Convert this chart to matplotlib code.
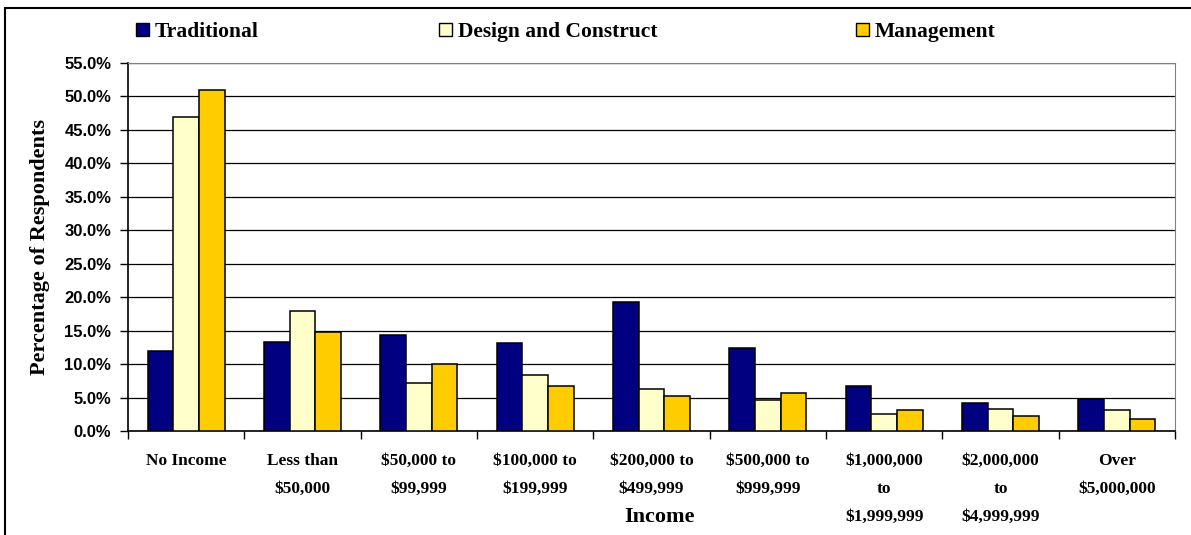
import numpy as np
import matplotlib
matplotlib.use("Agg")
import matplotlib.pyplot as plt
from matplotlib.patches import Rectangle

# データ
categories = ["No Income", "Less than\n\\$50,000", "\\$50,000 to\n\\$99,999",
              "\\$100,000 to\n\\$199,999", "\\$200,000 to\n\\$499,999",
              "\\$500,000 to\n\\$999,999", "\\$1,000,000\nto\n\\$1,999,999",
              "\\$2,000,000\nto\n\\$4,999,999", "Over\n\\$5,000,000"]
traditional = [11.9, 13.3, 14.4, 13.1, 19.3, 12.4, 6.8, 4.2, 4.8]
design_construct = [46.9, 17.9, 7.1, 8.4, 6.3, 4.6, 2.6, 3.3, 3.1]
management = [50.9, 14.8, 10.0, 6.7, 5.2, 5.7, 3.1, 2.2, 1.8]
series_names = ["Traditional", "Design and Construct", "Management"]
colors = ["#000080", "#FFFFCC", "#FFCC00"]

serif = ["Liberation Serif", "DejaVu Serif"]
narrow = ["Liberation Sans Narrow", "Liberation Sans", "DejaVu Sans"]

fig = plt.figure(figsize=(11.91, 5.35), dpi=100)
ax = fig.add_axes([0.1075, 0.1944, 0.8791, 0.6878])

x = np.arange(len(categories))
w = 0.22
bars = []
for i, (vals, name, c) in enumerate(zip([traditional, design_construct, management], series_names, colors)):
    b = ax.bar(x + (i - 1) * w, vals, w, color=c, edgecolor="black", linewidth=1.1,
               label=name, zorder=3)
    bars.append(b)

ax.set_xlim(-0.5, len(categories) - 0.5)
ax.set_ylim(0, 55)
ax.set_yticks(np.arange(0, 55.1, 5))
ax.set_yticklabels([f"{v:.1f}%" for v in np.arange(0, 55.1, 5)],
                   fontsize=12, fontweight="bold", family=narrow)
ax.yaxis.grid(True, color="black", linewidth=0.9, zorder=0)
ax.set_axisbelow(True)

# x軸の目盛はカテゴリの境界に
ax.set_xticks(np.arange(len(categories) + 1) - 0.5)
ax.set_xticklabels([])
ax.set_xticks(x, minor=True)
ax.set_xticklabels(categories, minor=True, fontsize=12.5, fontweight="bold",
                   family=serif, linespacing=2.0, va="top")
ax.tick_params(axis="x", which="minor", length=0, pad=16)
ax.tick_params(axis="x", which="major", length=6, direction="out", width=1)
ax.tick_params(axis="y", length=6, direction="out", width=1, pad=6)

for s in ["top", "right"]:
    ax.spines[s].set_color("#808080")
for s in ["left", "bottom"]:
    ax.spines[s].set_color("black")
    ax.spines[s].set_linewidth(1.2)

ax.set_ylabel("Percentage of Respondents", fontsize=16, fontweight="bold",
              family=serif, labelpad=10)
fig.text(0.554, 0.033, "Income", fontsize=16, fontweight="bold", family=serif,
         ha="center", va="center")

# 凡例は項目ごとに配置
leg_x = [137 / 1191, 440 / 1191, 857 / 1191]
for b, name, lx in zip(bars, series_names, leg_x):
    leg = fig.legend([b], [name], loc="center left", bbox_to_anchor=(lx - 0.001, 0.94),
                     frameon=False, handlelength=0.62, handleheight=0.62,
                     handletextpad=0.25, borderaxespad=0, borderpad=0,
                     prop={"family": serif, "weight": "bold", "size": 15.5})
    for h in leg.legend_handles:
        h.set_linewidth(1.0)

# 外枠
fig.patches.append(Rectangle((5 / 1191, -0.1), 1.2, 1 - 8 / 535 + 0.1,
                             transform=fig.transFigure, fill=False,
                             edgecolor="black", linewidth=1.5))

fig.savefig("out.png", dpi=100)
